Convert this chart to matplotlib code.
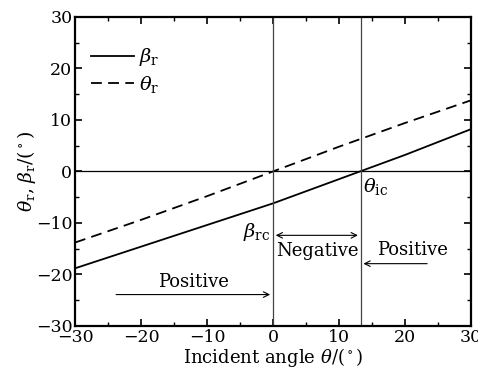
import matplotlib.pyplot as plt
from matplotlib.ticker import MultipleLocator

plt.rcParams['font.family'] = ['DejaVu Serif']
plt.rcParams['mathtext.fontset'] = 'dejavuserif'

# incident angle (deg)
theta_i = [-30, -20, -10, 0, 10, 20, 30]
# refraction angles
beta_r = [-18.8, -14.6, -10.4, -6.2, -1.5, 3.2, 8.2]
theta_r = [-13.8, -9.4, -4.8, 0.0, 4.8, 9.4, 13.8]
theta_ic = 13.3

fig = plt.figure(figsize=(4.78, 3.76), dpi=100)
ax = fig.add_axes([0.157, 0.133, 0.828, 0.822])

ax.plot(theta_i, beta_r, color='black', lw=1.3, label=r'$\beta_{\rm r}$')
ax.plot(theta_i, theta_r, color='black', lw=1.3, ls=(0, (6, 3.5)), label=r'$\theta_{\rm r}$')

ax.axhline(0, color='black', lw=0.9)
ax.axvline(0, color='#444444', lw=0.9)
ax.axvline(theta_ic, color='#444444', lw=0.9)

ax.set_xlim(-30, 30)
ax.set_ylim(-30, 30)
ax.xaxis.set_major_locator(MultipleLocator(10))
ax.xaxis.set_minor_locator(MultipleLocator(5))
ax.yaxis.set_major_locator(MultipleLocator(10))
ax.yaxis.set_minor_locator(MultipleLocator(5))
ax.tick_params(which='both', direction='in', top=True, right=True, labelsize=12.5, pad=2)
ax.tick_params(which='major', length=5, width=1.2)
ax.tick_params(which='minor', length=3, width=1.0)
for s in ax.spines.values():
    s.set_linewidth(1.6)

ax.set_xlabel(r'Incident angle $\theta$/($^\circ$)', fontsize=13, labelpad=0)
ax.set_ylabel(r'$\theta_{\rm r}$, $\beta_{\rm r}$/($^\circ$)', fontsize=13.5, labelpad=-2)

# annotations
ax.text(theta_ic + 0.3, -0.8, r'$\theta_{\rm ic}$', fontsize=14, ha='left', va='top')
ax.text(-0.4, -11.8, r'$\beta_{\rm rc}$', fontsize=14, ha='right', va='center')
ax.text(-12, -21.4, 'Positive', fontsize=13, ha='center', va='center')
ax.annotate('', xy=(0, -23.9), xytext=(-24.2, -23.9),
            arrowprops=dict(arrowstyle='->', color='black', lw=0.8))
ax.text(6.7, -15.5, 'Negative', fontsize=13, ha='center', va='center')
ax.annotate('', xy=(0, -12.4), xytext=(theta_ic, -12.4),
            arrowprops=dict(arrowstyle='<->', color='black', lw=0.8))
ax.text(21.2, -15.3, 'Positive', fontsize=13, ha='center', va='center')
ax.annotate('', xy=(theta_ic, -17.9), xytext=(23.8, -17.9),
            arrowprops=dict(arrowstyle='->', color='black', lw=0.8))

ax.legend(loc='upper left', bbox_to_anchor=(0.02, 0.93), frameon=False,
          fontsize=14, handlelength=2.2, handletextpad=0.3, labelspacing=0.3,
          borderaxespad=0)

fig.savefig('out.png', dpi=100)
